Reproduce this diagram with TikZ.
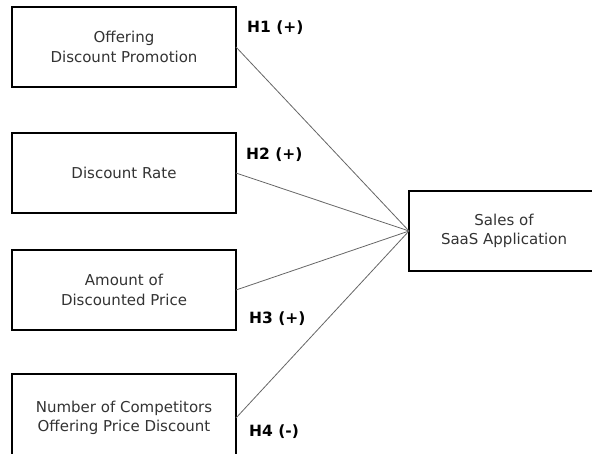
\documentclass[tikz,border=0pt]{standalone}
\usepackage{fontspec}
\setmainfont{DejaVu Sans}
\usetikzlibrary{positioning}
\tikzset{
    factor/.style={
        rectangle,
        draw=black,
        line width=1.6pt,
        align=center,
        text=black!80,
        minimum width=224pt,
        minimum height=80pt,
        font=\fontsize{15}{19.5}\selectfont,
        outer sep=0pt,
    },
    outcome/.style={
        factor,
        minimum width=190pt,
    },
    hypo/.style={
        anchor=west,
        inner sep=0pt,
        font=\bfseries\fontsize{15.5}{18}\selectfont,
    },
    link/.style={
        draw=black!60,
        line width=0.8pt,
    },
}

\begin{document}
\begin{tikzpicture}[x=1pt,y=-1pt]
    \useasboundingbox (0,0) rectangle (592,453);
    % independent variables
    \node[factor](off) at (124,47) {Offering\\Discount Promotion};
    \node[factor,below=46pt of off](rate) {Discount Rate};
    \node[factor,below=37pt of rate](amt) {Amount of\\Discounted Price};
    \node[factor,below=44pt of amt,minimum height=88pt](comp) {Number of Competitors\\Offering Price Discount};
    % dependent variable
    \node[outcome](sales) at (504,231) {Sales of\\SaaS Application};
    \draw[link] (off.east) -- (sales.west);
    \draw[link] (rate.east) -- (sales.west);
    \draw[link] (amt.east) -- (sales.west);
    \draw[link] (comp.east) -- (sales.west);
    \node[hypo](h1) at (247,28) {H1 (+)};
    \node[hypo](h2) at (246,155) {H2 (+)};
    \node[hypo](h3) at (249,319) {H3 (+)};
    \node[hypo](h4) at (249,432) {H4 (-)};
\end{tikzpicture}
\end{document}
